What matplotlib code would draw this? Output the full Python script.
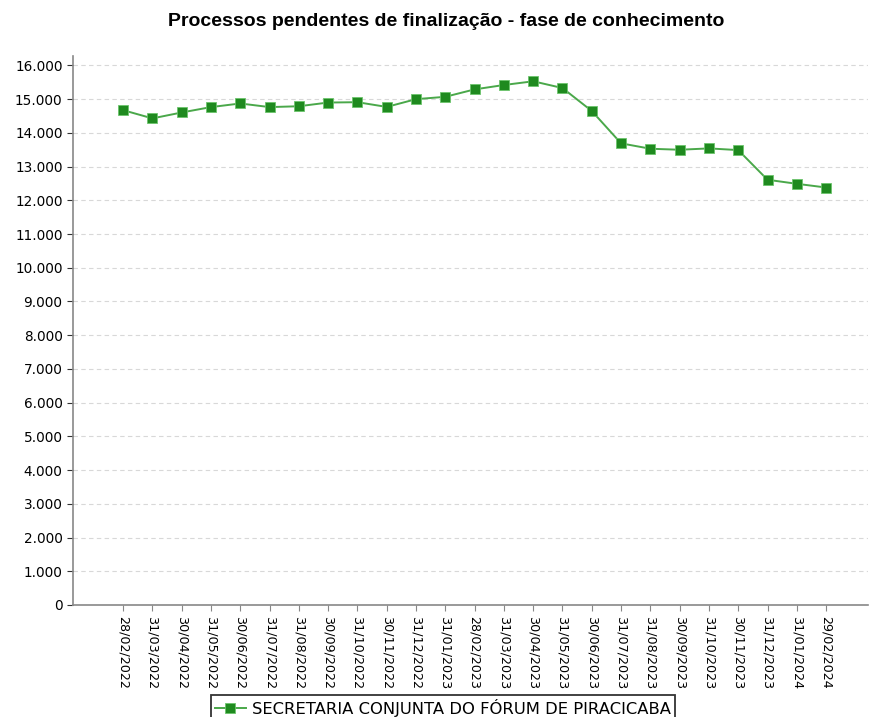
import matplotlib
matplotlib.use("Agg")
import matplotlib.pyplot as plt
from matplotlib.ticker import FuncFormatter

# month-end reference dates and pending case counts
dates = [
    "28/02/2022", "31/03/2022", "30/04/2022", "31/05/2022", "30/06/2022",
    "31/07/2022", "31/08/2022", "30/09/2022", "31/10/2022", "30/11/2022",
    "31/12/2022", "31/01/2023", "28/02/2023", "31/03/2023", "30/04/2023",
    "31/05/2023", "30/06/2023", "31/07/2023", "31/08/2023", "30/09/2023",
    "31/10/2023", "30/11/2023", "31/12/2023", "31/01/2024", "29/02/2024",
]
pendentes = [
    14674, 14430, 14605, 14765, 14872,
    14765, 14790, 14900, 14910, 14770,
    15000, 15070, 15290, 15420, 15530,
    15330, 14650, 13690, 13530, 13500,
    13540, 13490, 12610, 12490, 12380,
]
y_ticks = list(range(0, 16001, 1000))
serie = "SECRETARIA CONJUNTA DO FÓRUM DE PIRACICABA"

W, H = 870, 717
fig = plt.figure(figsize=(W / 100, H / 100), dpi=100)
ax = fig.add_axes([73 / W, 1 - 605 / H, (868 - 73) / W, (605 - 56) / H])

x = list(range(len(dates)))
ax.plot(x, pendentes, color="#4aa84a", linewidth=1.4, marker="s",
        markersize=7.5, markerfacecolor="#1f8a1f", markeredgecolor="#6cc46c",
        markeredgewidth=0.6, label=serie, zorder=3)

ax.set_xlim(-1.71, len(dates) - 1 + 1.43)
ax.set_ylim(0, 16280)
ax.set_xticks(x)
ax.set_xticklabels(dates, rotation=270, fontsize=9.2, family="DejaVu Sans")
ax.set_yticks(y_ticks)
ax.yaxis.set_major_formatter(
    FuncFormatter(lambda v, _: f"{int(v):,}".replace(",", ".")))
ax.tick_params(axis="y", labelsize=9.8, colors="#333333", length=4,
               width=0.8, labelcolor="black")
ax.tick_params(axis="x", colors="#888888", length=4, width=0.8,
               labelcolor="black", pad=4)

ax.grid(axis="y", color="#d8d8d8", linestyle=(0, (4, 3)), linewidth=0.8)
ax.set_axisbelow(True)
for side in ("top", "right"):
    ax.spines[side].set_visible(False)
for side in ("left", "bottom"):
    ax.spines[side].set_color("#888888")
    ax.spines[side].set_linewidth(1.2)

fig.text(446 / W, 1 - 21 / H, "Processos pendentes de finalização - fase de conhecimento",
         ha="center", va="center", fontsize=14, fontweight="bold",
         family="Liberation Sans")

leg = fig.legend(loc="upper center", bbox_to_anchor=(443 / W, 1 - 695 / H),
                 fontsize=11.8, frameon=True, fancybox=False,
                 borderpad=0.25, handlelength=1.9, handletextpad=0.4,
                 borderaxespad=0)
leg.get_frame().set_edgecolor("black")
leg.get_frame().set_linewidth(1.3)

fig.savefig("out.png", dpi=100)
